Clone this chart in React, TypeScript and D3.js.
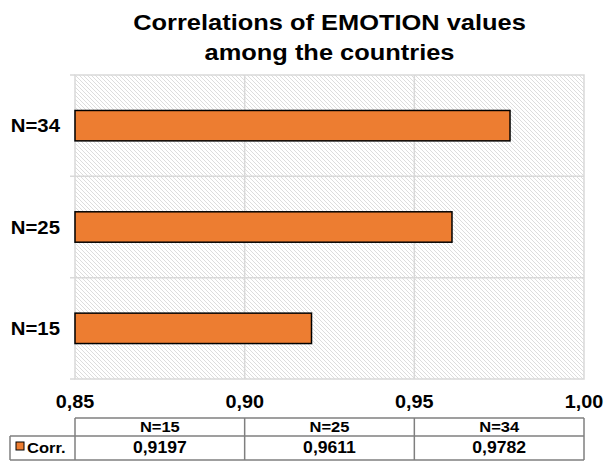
import * as d3 from 'd3';

const categories = ['N=15', 'N=25', 'N=34'];
const corrValues = [0.9197, 0.9611, 0.9782];
const xTicks = [0.85, 0.9, 0.95, 1.0];
const seriesName = 'Corr.';
const titleLines = ['Correlations of EMOTION values', 'among the countries'];

const W = 611;
const H = 461;
const PLOT_L = 75;
const PLOT_R = 584;
const PLOT_T = 75;
const PLOT_B = 379;
const ORANGE = '#ED7D31';
const GRID = '#d9d9d9';
const FONT = '"Liberation Sans", Arial, sans-serif';
const SX = 1.1; // the original text is a little wider than Arial
const fmt = (v: number, d: number) => v.toFixed(d).replace('.', ',');

function Label(props: {
  x: number; y: number; size: number; sx?: number;
  anchor?: 'start' | 'middle' | 'end'; children: string;
}) {
  const { x, y, size, sx = SX, anchor = 'middle', children } = props;
  return (
    <text
      transform={`translate(${x},${y}) scale(${sx},1)`}
      textAnchor={anchor}
      fontSize={size}
      fontWeight="bold"
      fill="#000"
    >
      {children}
    </text>
  );
}

export default function App() {
  const x = d3.scaleLinear().domain([0.85, 1.0]).range([PLOT_L, PLOT_R]);
  // top to bottom: N=34, N=25, N=15
  const y = d3.scaleBand<string>()
    .domain([...categories].reverse())
    .range([PLOT_T, PLOT_B])
    .padding(0);
  const barH = y.bandwidth() * 0.3;

  const tableTop = 418;
  const tableMid = 436;
  const tableBot = 460;
  const cols = xTicks.slice(0, -1).map((t, i) => [x(t), x(xTicks[i + 1])]);

  return (
    <svg
      width={W}
      height={H}
      style={{ position: 'absolute', left: 0, top: 0, background: '#fff' }}
      fontFamily={FONT}
    >
      <defs>
        <pattern id="hatch" width={4} height={4} patternUnits="userSpaceOnUse">
          <rect width={4} height={4} fill="#fff" />
          <path d="M-1,-1 L5,5 M-1,3 L1,5 M3,-1 L5,1" stroke="#dddddd" strokeWidth={1} />
        </pattern>
      </defs>

      {titleLines.map((t, i) => (
        <Label key={t} x={(PLOT_L + PLOT_R) / 2} y={30 + i * 30} size={22.5} sx={1.13}>
          {t}
        </Label>
      ))}

      <rect
        x={PLOT_L}
        y={PLOT_T}
        width={PLOT_R - PLOT_L}
        height={PLOT_B - PLOT_T}
        fill="url(#hatch)"
        stroke={GRID}
        strokeWidth={1.5}
      />
      {xTicks.slice(1, -1).map(t => (
        <line key={t} x1={x(t)} x2={x(t)} y1={PLOT_T} y2={PLOT_B} stroke={GRID} strokeWidth={1.5} />
      ))}
      {y.domain().map((c, i) => {
        const yy = (y(c) ?? 0) + y.bandwidth();
        return (
          <line
            key={c}
            x1={PLOT_L - 5}
            x2={i < 2 ? PLOT_R : PLOT_L}
            y1={yy}
            y2={yy}
            stroke={GRID}
            strokeWidth={1.5}
          />
        );
      })}
      <line x1={PLOT_L - 5} x2={PLOT_L} y1={PLOT_T} y2={PLOT_T} stroke={GRID} strokeWidth={1.5} />

      {categories.map((c, i) => {
        const by = (y(c) ?? 0) + (y.bandwidth() - barH) / 2;
        return (
          <g key={c}>
            <rect
              x={x(0.85)}
              y={by}
              width={x(corrValues[i]) - x(0.85)}
              height={barH}
              fill={ORANGE}
              stroke="#000"
              strokeWidth={1.5}
            />
            <Label x={60} y={(y(c) ?? 0) + y.bandwidth() / 2 + 6.5} size={18.5} anchor="end">
              {c}
            </Label>
          </g>
        );
      })}

      {xTicks.map(t => (
        <Label key={t} x={x(t)} y={408} size={18}>
          {fmt(t, 2)}
        </Label>
      ))}

      <g stroke="#7f7f7f" strokeWidth={1.5} fill="none">
        <line x1={PLOT_L} x2={PLOT_R} y1={tableTop} y2={tableTop} />
        <line x1={10} x2={PLOT_R} y1={tableMid} y2={tableMid} />
        <line x1={10} x2={PLOT_R} y1={tableBot} y2={tableBot} />
        <line x1={10} x2={10} y1={tableMid} y2={tableBot} />
        {xTicks.map(t => (
          <line key={t} x1={x(t)} x2={x(t)} y1={tableTop} y2={tableBot} />
        ))}
      </g>
      {categories.map((c, i) => (
        <g key={c}>
          <Label x={(cols[i][0] + cols[i][1]) / 2} y={432} size={15}>
            {c}
          </Label>
          <Label x={(cols[i][0] + cols[i][1]) / 2} y={453} size={16}>
            {fmt(corrValues[i], 4)}
          </Label>
        </g>
      ))}
      <rect x={16} y={442} width={8} height={8} fill={ORANGE} stroke="#000" strokeWidth={1} />
      <Label x={27} y={453} size={15} anchor="start">{seriesName}</Label>
    </svg>
  );
}
